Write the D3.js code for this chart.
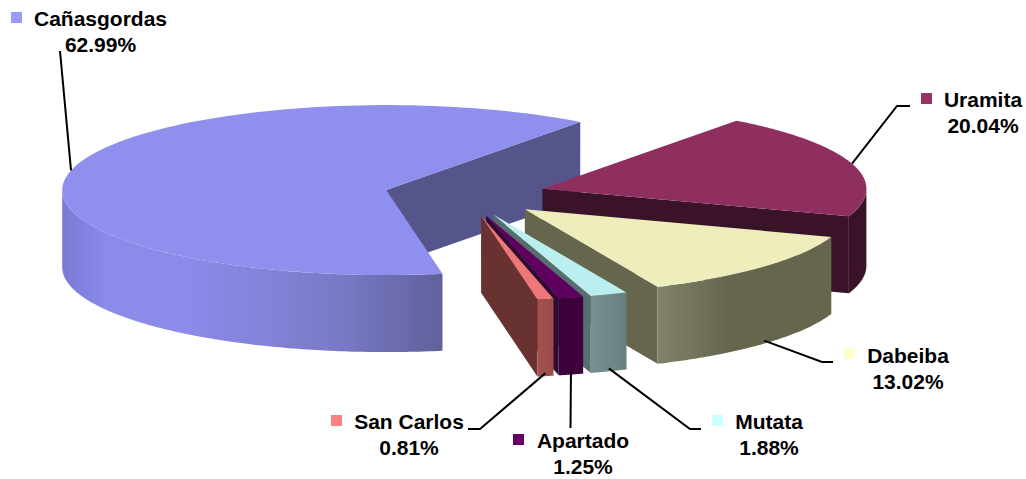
<!DOCTYPE html>
<html><head><meta charset="utf-8">
<script src="https://cdnjs.cloudflare.com/ajax/libs/d3/7.8.5/d3.min.js"></script>
<style>html,body{margin:0;padding:0;background:#fff}svg{display:block}text{font-family:"Liberation Sans",Arial,sans-serif;font-weight:bold;font-size:21px;fill:#000;text-anchor:middle}</style>
</head><body><svg id="c" width="1026" height="479"></svg>
<script>
// Data
const categories = ["Cañasgordas","Uramita","Dabeiba","Mutata","Apartado","San Carlos"];
const shares = [62.99,20.04,13.02,1.88,1.25,0.81];
const percentLabels = ["62.99%","20.04%","13.02%","1.88%","1.25%","0.81%"];

// Colours: legend key, top face, end wall, side gradient stops
const keyColors  = ["#9999ff","#993366","#ffffcc","#ccffff","#660066","#ff8080"];
const topColors  = ["#8f8fee","#8f2f5f","#eeeebd","#bbeeee","#5f005f","#ee7777"];
const wallColors = ["#55558c","#3b1329","#66664e","#576e6e","#2f0a33","#67322f"];
const sideStops  = [
  [[0,"#7a7ad6"],[.12,"#8b8bea"],[.32,"#8b8bea"],[.55,"#8282d8"],[.75,"#7878c4"],[1,"#60609c"]],
  [[0,"#3b1329"],[1,"#3b1329"]],
  [[0,"#82826c"],[.12,"#7a7a62"],[.4,"#66664e"],[1,"#66664e"]],
  [[0,"#7a9090"],[1,"#668080"]],
  [[0,"#3d003d"],[1,"#3d003d"]],
  [[0,"#a3524e"],[1,"#9a4c48"]]
];
// Label layout: key left/top, text centre, first line baseline, leader elbow points
const labelLayout = [
  {kx:11, ky:12, tx:100.5, ty:26, leader:[[60,51]]},
  {kx:921,ky:93, tx:983, ty:107, leader:[[897,106],[910,106]]},
  {kx:844,ky:348,tx:908, ty:363, leader:[[822,362],[833,362]]},
  {kx:712,ky:415,tx:769, ty:429, leader:[[690,429],[701,429]]},
  {kx:513,ky:434,tx:583, ty:448, leader:[[570.5,428]]},
  {kx:331,ky:415,tx:409, ty:429, leader:[[480,429],[468,429]]}
];

const svg=d3.select("#c");
const Rx=324,Ry=85,depth=77,explode=0.25;
const cx0=465,cy0=195;
const startDeg=170;
const x=d3.scaleLinear().domain([-1,1]).range([-Rx,Rx]);
const y=d3.scaleLinear().domain([-1,1]).range([Ry,-Ry]);
const rad=Math.PI/180;

const arcs=d3.pie().sort(null).startAngle(startDeg*rad).endAngle((startDeg+360)*rad)(shares);
const line=d3.line();
const defs=svg.append("defs");

arcs.forEach((d,i)=>{
  // keep every slice after the first in the 0..360 range
  if(d.startAngle>=2*Math.PI){d.startAngle-=2*Math.PI;d.endAngle-=2*Math.PI;}
  const mid=(d.startAngle+d.endAngle)/2;
  d.cx=cx0+x(Math.sin(mid)*explode)-x(0);
  d.cy=cy0+y(Math.cos(mid)*explode)-y(0);
  d.mid=mid;
  d.pt=(a,dz=0)=>[d.cx+x(Math.sin(a)),d.cy+y(Math.cos(a))-y(0)+dz];
  d.arcPts=(a0,a1,dz=0)=>d3.range(0,121).map(k=>d.pt(a0+(a1-a0)*k/120,dz));
});

// Slice parts, back slice first
arcs.forEach((d,i)=>{
  const g=svg.append("g").attr("class","slice").datum(d);
  const apex=[d.cx,d.cy], apexB=[d.cx,d.cy+depth];
  // End wall (the clockwise edge of each slice faces the viewer)
  const e=d.pt(d.endAngle), eB=d.pt(d.endAngle,depth);
  g.append("path").attr("d",line([apex,e,eB,apexB])+"Z").attr("fill",wallColors[i]);
  // Visible part of the outer side
  const a0=Math.max(d.startAngle,90*rad), a1=Math.min(d.endAngle,270*rad);
  const id="side"+i;
  const grad=defs.append("linearGradient").attr("id",id).attr("x1","0").attr("x2","1").attr("y1","0").attr("y2","0");
  sideStops[i].forEach(s=>grad.append("stop").attr("offset",s[0]).attr("stop-color",s[1]));
  const side=[...d.arcPts(a0,a1),...d.arcPts(a1,a0,depth)];
  g.append("path").attr("d",line(side)+"Z").attr("fill",`url(#${id})`);
  // Top face
  const top=[apex,...d.arcPts(d.startAngle,d.endAngle)];
  g.append("path").attr("d",line(top)+"Z").attr("fill",topColors[i]);
});

// Leaders, keys, labels
arcs.forEach((d,i)=>{
  const L=labelLayout[i];
  const front=Math.cos(d.mid)<0;
  const anchor=d.pt(d.mid,front?depth:0);
  const start=[anchor[0],anchor[1]+(front?-3:0)];
  svg.append("path").attr("d",line([start,...L.leader])).attr("fill","none").attr("stroke","#000").attr("stroke-width",2);
  svg.append("rect").attr("x",L.kx).attr("y",L.ky).attr("width",11).attr("height",11).attr("fill",keyColors[i]);
  svg.append("text").attr("x",L.tx).attr("y",L.ty).text(categories[i]);
  svg.append("text").attr("x",L.tx).attr("y",L.ty+25.5).text(percentLabels[i]);
});
</script></body></html>
